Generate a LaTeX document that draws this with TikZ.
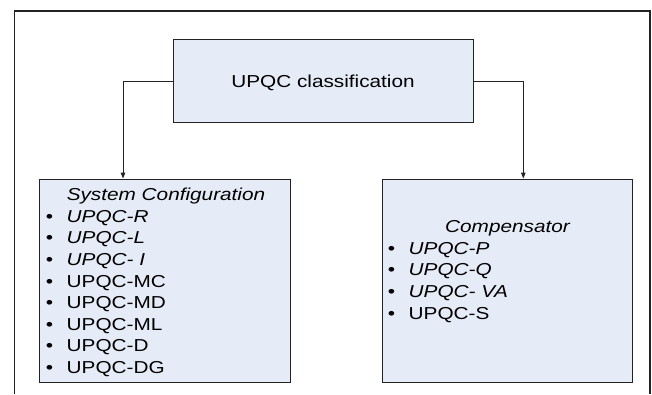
\documentclass[tikz,border=0pt]{standalone}
\usepackage{fontspec}
\setmainfont{Liberation Sans}[FakeStretch=1.2]
\usetikzlibrary{arrows.meta}
\definecolor{boxfill}{HTML}{E6ECF7}
\definecolor{edge}{HTML}{222222}
\tikzset{
  box/.style={draw=edge, fill=boxfill, line width=0.9pt, inner sep=0pt},
  txt/.style={inner sep=0pt, font=\fontsize{17.3}{21.6}\selectfont, text=black},
  arr/.style={draw=edge, line width=0.9pt, -{Triangle[length=6pt,width=4.5pt]}},
}
\begin{document}
\begin{tikzpicture}[x=1pt,y=-1pt]
\useasboundingbox[fill=white] (0,0) rectangle (652,394);
% outer frame
\draw[line width=1.3pt, draw=edge] (14.7,394) -- (14.7,11) -- (650,11) -- (650,394);
% boxes
\node[box, minimum width=300pt, minimum height=83.4pt] (top) at (323.3,81) {};
\node[box, minimum width=251pt, minimum height=203pt] (left) at (164.5,280.5) {};
\node[box, minimum width=250pt, minimum height=203pt] (right) at (507,280.5) {};
% top text
\node[txt, anchor=base] (ttl) at (323,87.3) {UPQC classification};
% left box text
\node[txt, anchor=base] (lh) at (166,200.7) {\itshape System Configuration};
\foreach \i/\t/\s in {1/UPQC-R/\itshape, 2/UPQC-L/\itshape, 3/UPQC- I/\itshape, 4/UPQC-MC/\upshape, 5/UPQC-MD/\upshape, 6/UPQC-ML/\upshape, 7/UPQC-D/\upshape, 8/UPQC-DG/\upshape}{
  \node[txt, anchor=base] (lb\i) at (49.5,200.7+21.6*\i) {\textbullet};
  \node[txt, anchor=base west] (lt\i) at (66.5,200.7+21.6*\i) {\s \t};
}
% right box text
\node[txt, anchor=base] (rh) at (507.5,232.7) {\itshape Compensator};
\foreach \i/\t/\s in {1/UPQC-P/\itshape, 2/UPQC-Q/\itshape, 3/UPQC- VA/\itshape, 4/UPQC-S/\upshape}{
  \node[txt, anchor=base] (rb\i) at (391.5,232.7+21.6*\i) {\textbullet};
  \node[txt, anchor=base west] (rt\i) at (408.5,232.7+21.6*\i) {\s \t};
}
% connectors
\draw[arr] (top.west) -| ([xshift=-41.5pt]left.north);
\draw[arr] (top.east) -| ([xshift=16.3pt]right.north);
\end{tikzpicture}
\end{document}
